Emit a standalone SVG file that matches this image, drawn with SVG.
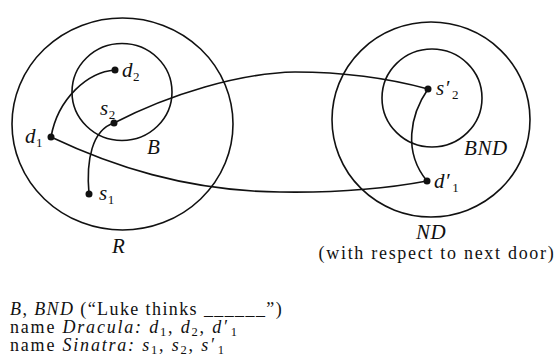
<svg xmlns="http://www.w3.org/2000/svg" width="556" height="359" viewBox="0 0 556 359">
<style>
.ring{fill:none;stroke:#111;stroke-width:1.6}
.conn{fill:none;stroke:#111;stroke-width:1.6}
.dot{fill:#111}
text{font-family:"Liberation Serif","Times New Roman",serif;fill:#111}
.it{font-style:italic}
.lab{font-size:21px;font-style:italic;letter-spacing:0.6px}
.sub{font-size:13px;font-style:normal}
.body{font-size:18px}
</style>
<rect width="556" height="359" fill="#fff"/>
<g id="R"><ellipse class="ring" cx="122.5" cy="124" rx="110.5" ry="106"/><text class="lab" x="112" y="253">R</text></g>
<g id="B"><ellipse class="ring" cx="122" cy="92" rx="50" ry="48.5"/><text class="lab" x="147" y="154">B</text></g>
<g id="ND"><ellipse class="ring" cx="431" cy="119.5" rx="99" ry="97.5"/><text class="lab" x="416" y="239">ND</text><text class="body" x="437" y="259" text-anchor="middle" letter-spacing="1.7">(with respect to next door)</text></g>
<g id="BND"><ellipse class="ring" cx="432" cy="98" rx="50" ry="49"/><text class="lab" x="464" y="155">BND</text></g>
<g id="connectors">
<path class="conn" d="M51,137 C58,98 88,72 115,70"/>
<path class="conn" d="M89,194 C86,160 92,130 114,123"/>
<path class="conn" d="M114,123 C170,94 240,73 295,72 C350,72 395,80 428,89"/>
<path class="conn" d="M51,137 C110,165 185,191 280,192 C345,193 395,187 427,181"/>
<path class="conn" d="M428,89 C410,115 403,152 427,181"/>
</g>
<g id="d2"><circle class="dot" cx="115" cy="70" r="3.5"/><text class="lab" x="122" y="77">d<tspan class="sub" dy="4">2</tspan></text></g>
<g id="s2"><circle class="dot" cx="114" cy="123" r="3.5"/><text class="lab" x="100" y="115">s<tspan class="sub" dy="4">2</tspan></text></g>
<g id="d1"><circle class="dot" cx="51" cy="137" r="3.5"/><text class="lab" x="25" y="143">d<tspan class="sub" dy="4">1</tspan></text></g>
<g id="s1"><circle class="dot" cx="89" cy="194" r="3.5"/><text class="lab" x="99" y="200">s<tspan class="sub" dy="4">1</tspan></text></g>
<g id="s2p"><circle class="dot" cx="428" cy="89" r="3.5"/><text class="lab" x="436" y="95">s′<tspan class="sub" dx="2" dy="4">2</tspan></text></g>
<g id="d1p"><circle class="dot" cx="427" cy="181" r="3.5"/><text class="lab" x="434" y="188">d′<tspan class="sub" dx="2" dy="4">1</tspan></text></g>
<g id="legend">
<text class="body" x="10" y="315" letter-spacing="1.4"><tspan class="it">B</tspan>, <tspan class="it">BND</tspan> (“Luke thinks ______”)</text>
<text class="body" x="10" y="333" letter-spacing="1.8">name <tspan class="it">Dracula:</tspan> <tspan class="it">d</tspan><tspan font-size="12.5" dy="2.5">1</tspan><tspan dy="-2.5">, </tspan><tspan class="it">d</tspan><tspan font-size="12.5" dy="2.5">2</tspan><tspan dy="-2.5">, </tspan><tspan class="it">d′</tspan><tspan font-size="12.5" dx="2" dy="2.5">1</tspan></text>
<text class="body" x="10" y="351" letter-spacing="1.8">name <tspan class="it">Sinatra:</tspan> <tspan class="it">s</tspan><tspan font-size="12.5" dy="2.5">1</tspan><tspan dy="-2.5">, </tspan><tspan class="it">s</tspan><tspan font-size="12.5" dy="2.5">2</tspan><tspan dy="-2.5">, </tspan><tspan class="it">s′</tspan><tspan font-size="12.5" dx="2" dy="2.5">1</tspan></text>
</g>
</svg>
